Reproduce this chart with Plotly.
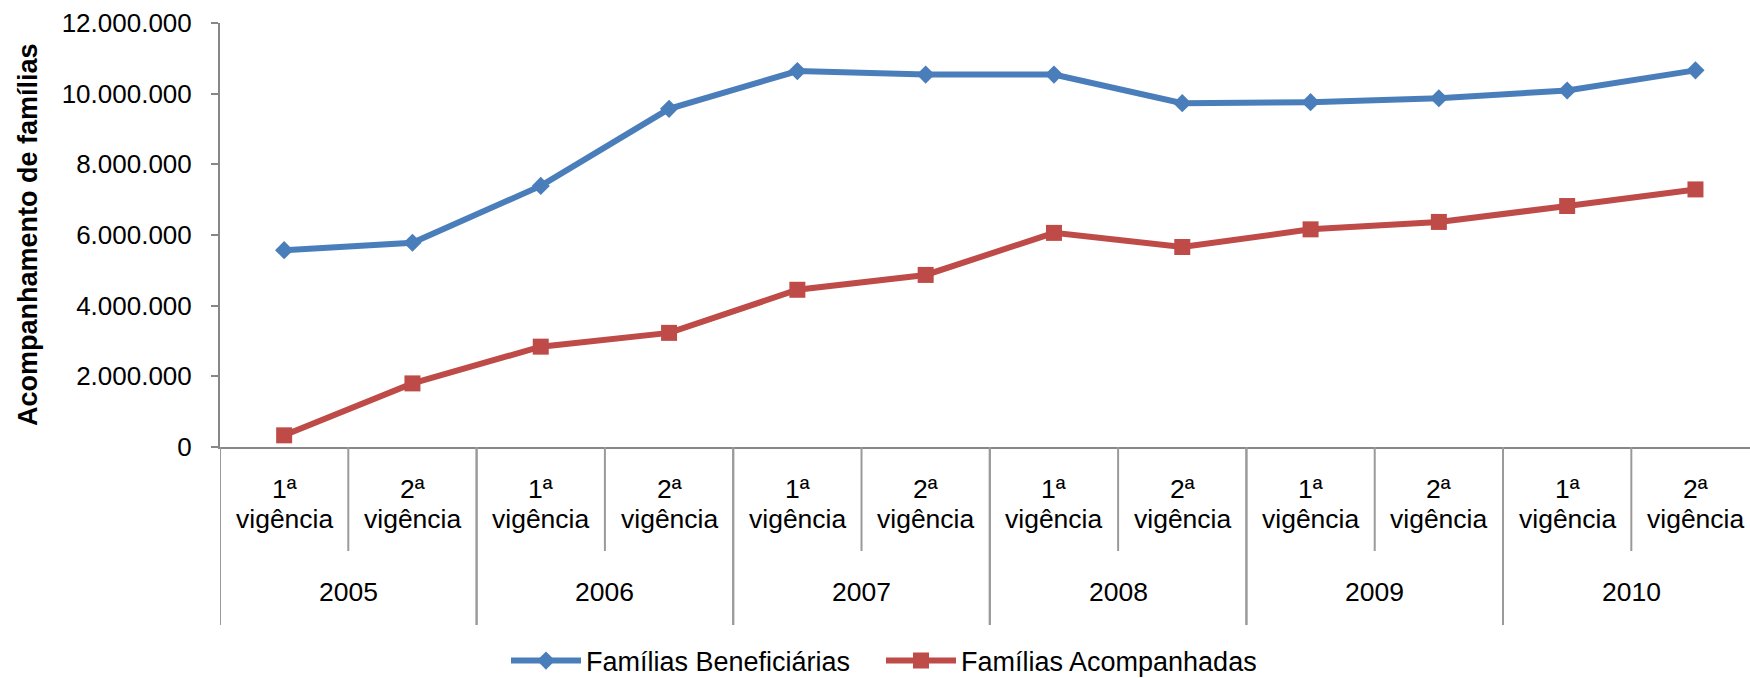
import plotly.graph_objects as go

years = ["2005", "2006", "2007", "2008", "2009", "2010"]
ordinals = ["1ª", "2ª"]
period_word = "vigência"
beneficiarias = [5570000, 5780000, 7390000, 9570000, 10640000, 10540000,
                 10540000, 9730000, 9760000, 9870000, 10090000, 10660000]
acompanhadas = [330000, 1800000, 2840000, 3230000, 4450000, 4870000,
                6060000, 5660000, 6160000, 6370000, 6820000, 7290000]
y_ticks = [0, 2000000, 4000000, 6000000, 8000000, 10000000, 12000000]

n = len(beneficiarias)
xs = list(range(n))
FONT = "Liberation Sans, Arial, sans-serif"
AX = "#878787"
DIV = "#9a9a9a"

fig = go.Figure()
fig.add_trace(go.Scatter(
    x=xs, y=beneficiarias, name="Famílias Beneficiárias", mode="lines+markers",
    line=dict(color="#4A7EBB", width=6),
    marker=dict(symbol="diamond", size=14, color="#4A7EBB"),
))
fig.add_trace(go.Scatter(
    x=xs, y=acompanhadas, name="Famílias Acompanhadas", mode="lines+markers",
    line=dict(color="#BE4B48", width=6),
    marker=dict(symbol="square", size=16, color="#BE4B48"),
))

plot_h = 678 - 23 - 231  # px height of plot area

annotations = []
shapes = []
for i in range(n):
    annotations.append(dict(
        x=i, xref="x", y=-42 / plot_h, yref="paper", yanchor="middle",
        text=ordinals[i % 2], showarrow=False,
        font=dict(family=FONT, size=26.5, color="black"),
    ))
    annotations.append(dict(
        x=i, xref="x", y=-72 / plot_h, yref="paper", yanchor="middle",
        text=period_word, showarrow=False,
        font=dict(family=FONT, size=26.5, color="black"),
    ))
for j, yr in enumerate(years):
    annotations.append(dict(
        x=2 * j + 0.5, xref="x", y=-145 / plot_h, yref="paper", yanchor="middle",
        text=yr, showarrow=False, font=dict(family=FONT, size=26.5, color="black"),
    ))
    shapes.append(dict(type="line", xref="x", yref="paper",
                       x0=2 * j + 0.5, x1=2 * j + 0.5, y0=0, y1=-104 / plot_h,
                       line=dict(color=DIV, width=2)))
    for xb in (2 * j - 0.5, 2 * j + 1.5):
        shapes.append(dict(type="line", xref="x", yref="paper",
                           x0=xb, x1=xb, y0=0, y1=-178 / plot_h,
                           line=dict(color=DIV, width=2)))

annotations.append(dict(
    x=(28 - 220) / 1530, xref="paper", y=0.50, yref="paper",
    text="<b>Acompanhamento de famílias</b>", textangle=-90, showarrow=False,
    xanchor="center", yanchor="middle",
    font=dict(family=FONT, size=27, color="black"),
))

fig.update_layout(
    width=1750, height=678,
    margin=dict(l=220, r=0, t=23, b=231),
    paper_bgcolor="white", plot_bgcolor="white",
    separators=",.",
    font=dict(family=FONT, size=26, color="black"),
    showlegend=True,
    legend=dict(orientation="h", x=(506 - 220) / 1530, xanchor="left",
                yref="container", y=(678 - 661) / 678, yanchor="middle",
                font=dict(family=FONT, size=27, color="black"),
                itemwidth=70, entrywidth=290, entrywidthmode="pixels",
                tracegroupgap=0, borderwidth=0),
    annotations=annotations,
    shapes=shapes,
)
fig.update_xaxes(range=[-0.5, 11.425], showgrid=False, zeroline=False,
                 showticklabels=False, ticks="", showline=True,
                 linecolor=AX, linewidth=2, automargin=False)
fig.update_yaxes(range=[0, 12000000], tickvals=y_ticks, tickformat=",d",
                 showgrid=False, zeroline=False, showline=True, linecolor=AX,
                 linewidth=2, ticks="outside", ticklen=7, tickcolor=AX,
                 tickwidth=2, ticklabelstandoff=14, automargin=False,
                 tickfont=dict(family=FONT, size=26, color="black"))

fig.write_html("out.html", config={"displayModeBar": False},
               post_script="document.body.style.margin='0px';document.body.style.overflow='hidden';")
